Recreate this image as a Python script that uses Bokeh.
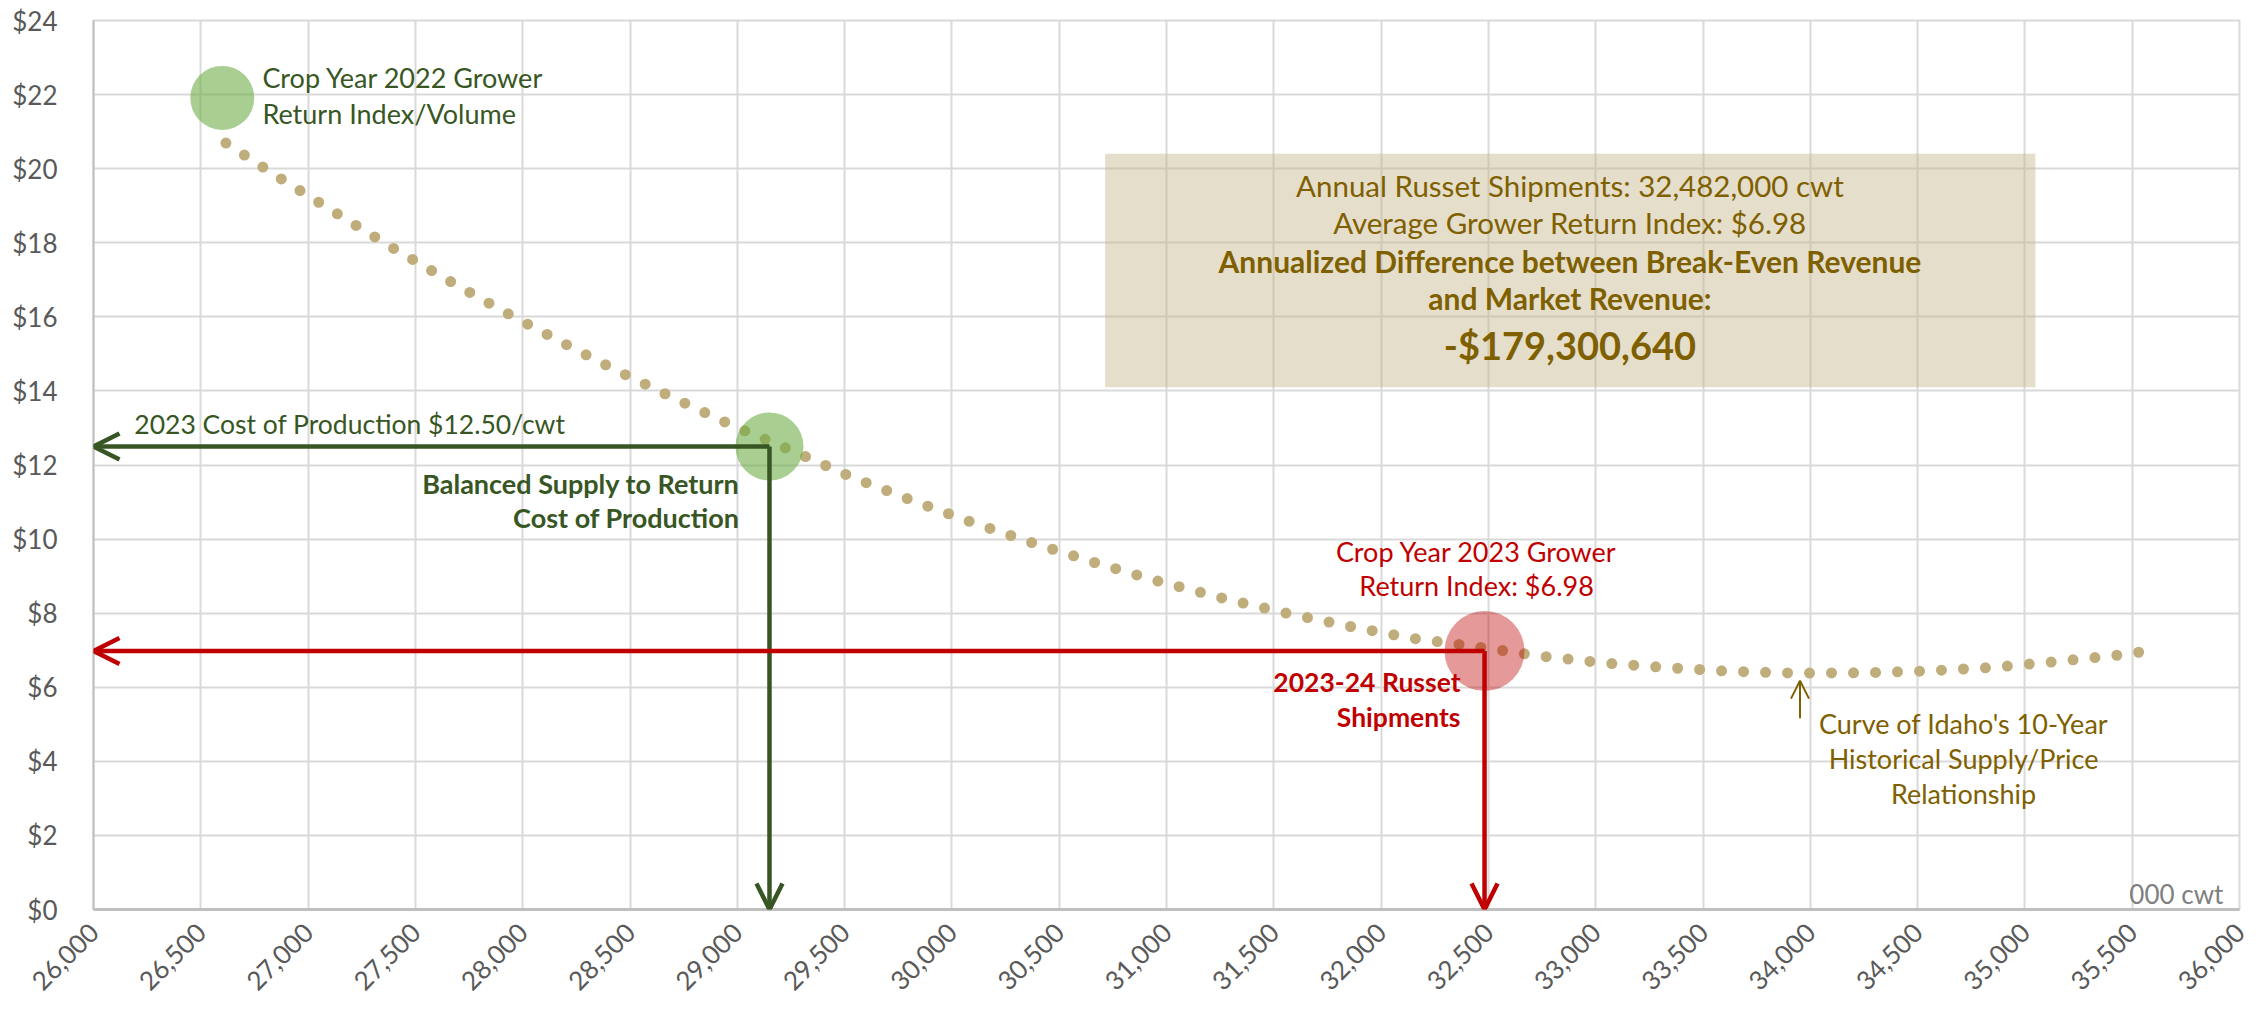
import math
from bokeh.plotting import figure
from bokeh.models import (Label, Arrow, OpenHead, BoxAnnotation, FixedTicker,
                          NumeralTickFormatter, Range1d)
from bokeh.embed import file_html
from bokeh.resources import INLINE

# ---------------- data ----------------
curve_volume = [26617, 26870, 27125, 27380, 27640, 27904, 28170, 28438, 28711,
                28979, 29270, 29535, 29816, 30099, 30385, 30669, 30958, 31250,
                31542, 31840, 32136, 32435, 32731, 33029, 33330, 33632, 33935,
                34238, 34538, 34839, 35140, 35439, 35536]
curve_price = [20.69, 19.74, 18.82, 17.91, 17.03, 16.17, 15.35, 14.55, 13.79,
               13.06, 12.35, 11.67, 11.04, 10.44, 9.88, 9.36, 8.87, 8.42,
               8.02, 7.66, 7.33, 7.10, 6.85, 6.66, 6.53, 6.43, 6.38,
               6.39, 6.44, 6.53, 6.69, 6.87, 6.95]

crop2022_volume = [26600]
crop2022_price = [21.91]
balanced_volume = [29150]
cost_of_production = [12.50]
shipments_volume = [32482]
return_index = [6.98]
curve_low_volume = 33952

x_ticks = [26000, 26500, 27000, 27500, 28000, 28500, 29000, 29500, 30000,
           30500, 31000, 31500, 32000, 32500, 33000, 33500, 34000, 34500,
           35000, 35500, 36000]
y_ticks = [0, 2, 4, 6, 8, 10, 12, 14, 16, 18, 20, 22, 24]

box_lines = ["Annual Russet Shipments: 32,482,000 cwt",
             "Average Grower Return Index: $6.98",
             "Annualized Difference between Break-Even Revenue",
             "and Market Revenue:",
             "-$179,300,640"]

# ---------------- styles ----------------
FONT = "Lato"
GREEN = "#375623"
RED = "#C00000"
GOLD = "#7F6000"
GRID = "#D9D9D9"
TICK = "#595959"

p = figure(width=2257, height=1008, output_backend="svg", toolbar_location=None,
           x_range=Range1d(x_ticks[0], x_ticks[-1]),
           y_range=Range1d(y_ticks[0], y_ticks[-1]),
           min_border_left=93, min_border_right=18, min_border_top=20,
           min_border_bottom=99)
p.outline_line_color = GRID
p.outline_line_width = 2
p.background_fill_color = "white"
p.border_fill_color = "white"

p.xaxis.ticker = FixedTicker(ticks=x_ticks)
p.yaxis.ticker = FixedTicker(ticks=y_ticks)
p.xaxis.formatter = NumeralTickFormatter(format="0,0")
p.yaxis.formatter = NumeralTickFormatter(format="$0")
for ax in (p.xaxis, p.yaxis):
    ax.major_label_text_font = FONT
    ax.major_label_text_font_size = "26px"
    ax.major_label_text_color = TICK
    ax.major_tick_line_color = None
    ax.minor_tick_line_color = None
    ax.axis_line_color = "#BFBFBF"
    ax.axis_line_width = 2
p.xaxis.major_label_orientation = math.pi / 4
p.xaxis.major_label_standoff = 12
p.yaxis.major_label_standoff = 30
p.xaxis.axis_line_width = 3

p.xgrid.grid_line_color = GRID
p.ygrid.grid_line_color = GRID
p.xgrid.grid_line_width = 2
p.ygrid.grid_line_width = 2

# info box
box = BoxAnnotation(left=30714, right=35049, bottom=14.10, top=20.40,
                    fill_color="#C5B58B", fill_alpha=0.45, line_color=None)
p.add_layout(box)

# dotted supply/price curve
p.line(curve_volume, curve_price, line_color="#C0AD7C", line_width=11,
       line_dash="0 22", line_cap="round")

# circles
p.scatter(crop2022_volume, crop2022_price, size=64, fill_color="#70AD47",
          fill_alpha=0.6, line_color=None)
p.scatter(balanced_volume, cost_of_production, size=68, fill_color="#70AD47",
          fill_alpha=0.6, line_color=None)
p.scatter(shipments_volume, return_index, size=80, fill_color=RED,
          fill_alpha=0.4, line_color=None)

# arrows
def arrow(x0, y0, x1, y1, color, width, size):
    p.add_layout(Arrow(x_start=x0, y_start=y0, x_end=x1, y_end=y1,
                       line_color=color, line_width=width,
                       end=OpenHead(size=size, line_color=color, line_width=width)))

arrow(balanced_volume[0], cost_of_production[0], x_ticks[0], cost_of_production[0], GREEN, 4.5, 26)
arrow(balanced_volume[0], cost_of_production[0], balanced_volume[0], y_ticks[0], GREEN, 4.5, 26)
arrow(shipments_volume[0], return_index[0], x_ticks[0], return_index[0], RED, 4.5, 26)
arrow(shipments_volume[0], return_index[0], shipments_volume[0], y_ticks[0], RED, 4.5, 26)
arrow(curve_low_volume, 5.16, curve_low_volume, 6.18, GOLD, 2, 18)

def label(x, y, text, color, size="27px", align="left", bold=False):
    p.add_layout(Label(x=x, y=y, text=text, text_color=color, text_font=FONT,
                       text_font_size=size, text_align=align,
                       text_baseline="middle",
                       text_font_style="bold" if bold else "normal"))

label(26787, 22.46, "Crop Year 2022 Grower", GREEN)
label(26787, 21.49, "Return Index/Volume", GREEN)
label(26190, 13.11, "2023 Cost of Production $12.50/cwt", GREEN, size="26.5px")
label(29010, 11.49, "Balanced Supply to Return", GREEN, align="right", bold=True)
label(29010, 10.59, "Cost of Production", GREEN, align="right", bold=True)
label(32445, 9.67, "Crop Year 2023 Grower", RED, align="center")
label(32445, 8.75, "Return Index: $6.98", RED, align="center")
label(32370, 6.14, "2023-24 Russet", RED, size="26.5px", align="right", bold=True)
label(32370, 5.21, "Shipments", RED, size="26.5px", align="right", bold=True)
label(34714, 5.02, "Curve of Idaho's 10-Year", GOLD, align="center")
label(34714, 4.08, "Historical Supply/Price", GOLD, align="center")
label(34714, 3.13, "Relationship", GOLD, align="center")
label(35925, 0.43, "000 cwt", "#7F7F7F", size="26px", align="right")

box_y = [19.55, 18.54, 17.50, 16.50, 15.25]
box_sizes = ["29.5px", "29.5px", "30px", "30px", "38px"]
box_bold = [False, False, True, True, True]
for t, yy, sz, b in zip(box_lines, box_y, box_sizes, box_bold):
    label(32880, yy, t, GOLD, size=sz, align="center", bold=b)

open("out.html", "w").write(file_html(p, INLINE))
